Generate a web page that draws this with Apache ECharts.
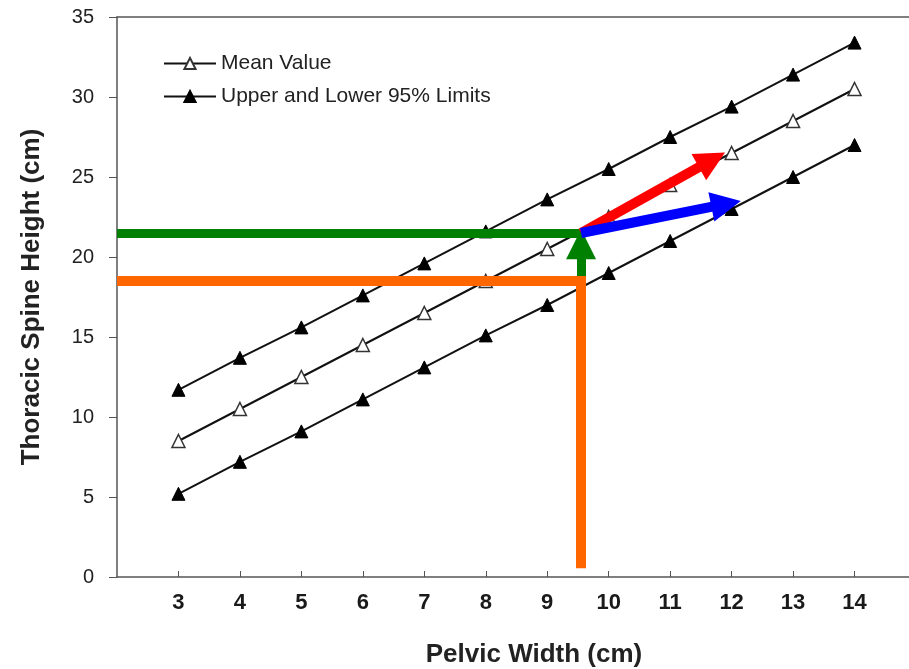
<!DOCTYPE html>
<html>
<head>
<meta charset="utf-8">
<script src="https://cdn.jsdelivr.net/npm/echarts@6/dist/echarts.min.js"></script>
<style>html,body{margin:0;padding:0;background:#fff;}#c{width:909px;height:669px;}</style>
</head>
<body>
<div id="c"></div>
<script>
var pelvicWidth = [3, 4, 5, 6, 7, 8, 9, 10, 11, 12, 13, 14];
var meanValue = [8.5, 10.5, 12.5, 14.5, 16.5, 18.5, 20.5, 22.5, 24.5, 26.5, 28.5, 30.5];
var upperLimit = [11.7, 13.7, 15.6, 17.6, 19.6, 21.6, 23.6, 25.5, 27.5, 29.4, 31.4, 33.4];
var lowerLimit = [5.2, 7.2, 9.1, 11.1, 13.1, 15.1, 17.0, 19.0, 21.0, 23.0, 25.0, 27.0];
var xTicks = [3, 4, 5, 6, 7, 8, 9, 10, 11, 12, 13, 14];
var yTicks = [0, 5, 10, 15, 20, 25, 30, 35];

// annotation segments (data coordinates)
var greenH = [[2, 21.5], [9.62, 21.5]];
var orangeH = [[2, 18.5], [9.63, 18.5]];
var orangeV = [[9.55, 18.5], [9.55, 0.55]];
var greenArrow = [[9.55, 18.6], [9.55, 20.8]];
var redArrow = [[9.55, 21.5], [11.68, 26.07]];
var blueArrow = [[9.55, 21.5], [11.91, 23.32]];

function zip(xs, ys) { return xs.map(function (x, i) { return [x, ys[i]]; }); }

var chart = echarts.init(document.getElementById('c'), null, {renderer: 'canvas'});
var font = 'Liberation Sans, Arial, sans-serif';
var lineName = 'Upper and Lower 95% Limits';

function seg(coords, color, width, arrow) {
  return {
    type: 'lines', coordinateSystem: 'cartesian2d', silent: true, z: 5,
    polyline: false,
    symbol: arrow ? ['none', 'triangle'] : ['none', 'none'],
    symbolSize: arrow ? 30 : 0,
    lineStyle: {color: color, width: width, opacity: 1, cap: 'butt'},
    data: [{coords: coords}]
  };
}

chart.setOption({
  animation: false,
  backgroundColor: '#fff',
  grid: {left: 117, top: 17, width: 799, height: 560, show: false,
    containLabel: false, outerBoundsMode: 'none'},
  legend: {
    orient: 'vertical', left: 158, top: 48, itemWidth: 52, itemHeight: 14, itemGap: 12,
    textStyle: {fontFamily: font, fontSize: 21, color: '#222'},
    data: [{name: 'Mean Value'}, {name: lineName}]
  },
  xAxis: [{
    type: 'value', min: 2, max: 15, interval: 1,
    name: 'Pelvic Width (cm)', nameLocation: 'middle', nameGap: 65,
    nameTextStyle: {fontFamily: font, fontSize: 26, fontWeight: 'bold', color: '#222', padding: [0, 0, 0, 35]},
    axisLine: {show: true, onZero: false, lineStyle: {color: '#555', width: 1.5}},
    axisTick: {show: true, inside: true, length: 6, lineStyle: {color: '#555'},
      customValues: xTicks},
    axisLabel: {fontFamily: font, fontSize: 22, fontWeight: 'bold', color: '#1a1a1a', margin: 15,
      customValues: xTicks},
    splitLine: {show: false}
  }, {
    type: 'value', position: 'top', min: 2, max: 15,
    axisLine: {show: true, onZero: false, lineStyle: {color: '#555', width: 1.5}},
    axisTick: {show: false}, axisLabel: {show: false}, splitLine: {show: false}
  }],
  yAxis: {
    type: 'value', min: 0, max: 35, interval: 5,
    name: 'Thoracic Spine Height (cm)', nameLocation: 'middle', nameGap: 72,
    nameTextStyle: {fontFamily: font, fontSize: 26, fontWeight: 'bold', color: '#222'},
    axisLine: {show: true, lineStyle: {color: '#555', width: 1.5}},
    axisTick: {show: true, inside: false, length: 8, lineStyle: {color: '#555'}},
    axisLabel: {fontFamily: font, fontSize: 20, color: '#222', margin: 23,
      customValues: yTicks},
    splitLine: {show: false}
  },
  series: [
    {name: lineName, type: 'line', data: zip(pelvicWidth, upperLimit), symbol: 'triangle', symbolSize: 13,
      lineStyle: {color: '#111', width: 2}, itemStyle: {color: '#000', borderColor: '#000', borderWidth: 1}, z: 3},
    {name: 'Mean Value', type: 'line', data: zip(pelvicWidth, meanValue), symbol: 'triangle', symbolSize: 13,
      lineStyle: {color: '#111', width: 2}, itemStyle: {color: '#fff', borderColor: '#333', borderWidth: 1.5}, z: 3},
    {name: lineName, type: 'line', data: zip(pelvicWidth, lowerLimit), symbol: 'triangle', symbolSize: 13,
      lineStyle: {color: '#111', width: 2}, itemStyle: {color: '#000', borderColor: '#000', borderWidth: 1}, z: 3},
    seg(greenH, '#008000', 9, false),
    seg(greenArrow, '#008000', 9, true),
    seg(orangeH, '#ff6600', 10, false),
    seg(orangeV, '#ff6600', 10, false),
    seg(redArrow, '#ff0000', 10, true),
    seg(blueArrow, '#0000ff', 10, true)
  ]
});
</script>
</body>
</html>
